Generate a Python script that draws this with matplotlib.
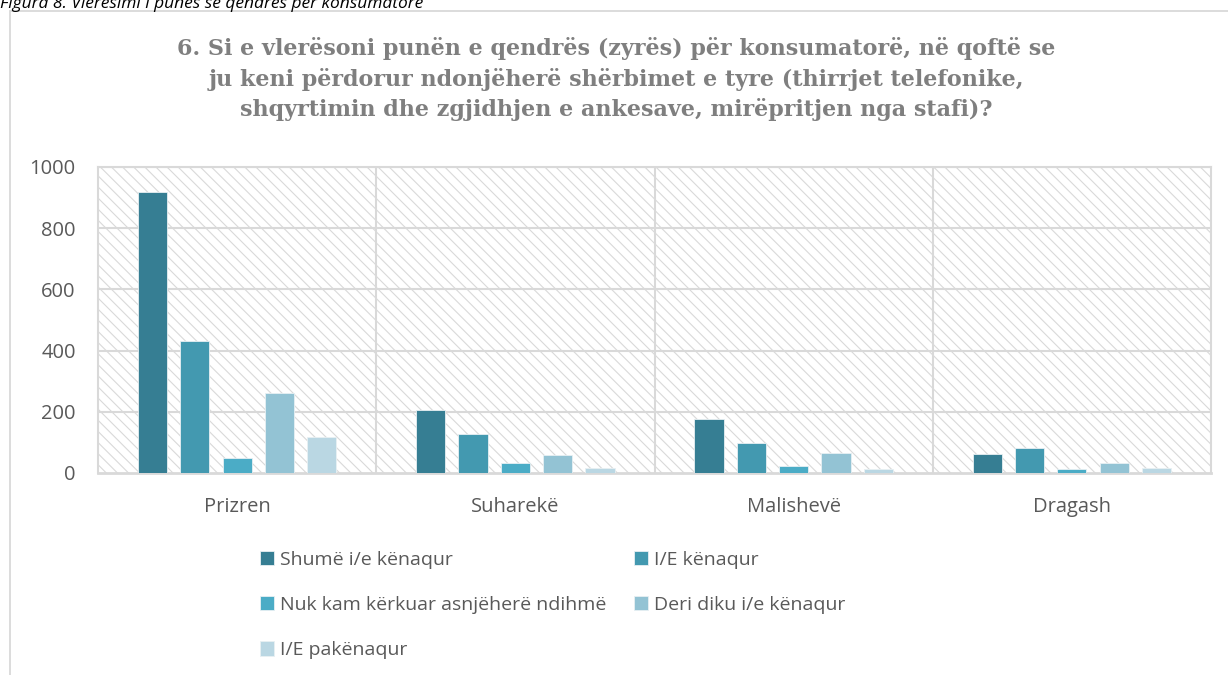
import matplotlib
matplotlib.use("Agg")
import matplotlib.pyplot as plt
import numpy as np
from matplotlib.patches import Rectangle

# data
regions = ["Prizren", "Suharekë", "Malishevë", "Dragash"]
series = ["Shumë i/e kënaqur", "I/E kënaqur", "Nuk kam kërkuar asnjëherë ndihmë",
          "Deri diku i/e kënaqur", "I/E pakënaqur"]
shume = [919, 206, 176, 61]
kenaqur = [430, 127, 97, 81]
nuk_kam = [50, 33, 22, 14]
deri_diku = [263, 59, 65, 34]
pakenaqur = [118, 16, 14, 16]
yticks = [0, 200, 400, 600, 800, 1000]

values = [shume, kenaqur, nuk_kam, deri_diku, pakenaqur]
colors = ["#367e93", "#4399b0", "#4bacc6", "#93c3d4", "#bad7e3"]
grey = "#595959"
line = "#d9d9d9"

plt.rcParams['font.family'] = ['Open Sans', 'DejaVu Sans']
plt.rcParams['hatch.linewidth'] = 0.8
plt.rcParams['hatch.color'] = line

fig = plt.figure(figsize=(12.28, 6.75), dpi=100)
ax = fig.add_axes([98/1228, 1 - 473/675, (1211-98)/1228, (473-167)/675])

# hatched plot background
bg = Rectangle((0, 0), 1, 1, transform=ax.transAxes, facecolor="white",
               edgecolor=line, hatch="\\\\\\", linewidth=0, zorder=0)
ax.add_patch(bg)

x = np.arange(len(regions))
width = 0.105
pitch = 0.152
for i, (vals, c, lab) in enumerate(zip(values, colors, series)):
    ax.bar(x + (i - 2) * pitch, vals, width, color=c, label=lab, zorder=3,
           edgecolor="#e8f0f3", linewidth=0.6)

ax.set_xlim(-0.5, len(regions) - 0.5)
ax.set_ylim(0, 1000)
ax.set_yticks(yticks)
ax.set_xticks(x)
ax.set_xticklabels(regions)
ax.tick_params(length=0, colors=grey, labelsize=14.5)
ax.tick_params(axis="x", pad=17)
ax.tick_params(axis="y", pad=16)

for yv in yticks[1:]:
    ax.axhline(yv, color=line, lw=1.5, zorder=1)
for xv in x[:-1] + 0.5:
    ax.axvline(xv, color=line, lw=1.5, zorder=1)
for s in ax.spines.values():
    s.set_color(line)
    s.set_linewidth(1.5)
ax.spines["bottom"].set_linewidth(2)

# legend, row-wise order
h, l = ax.get_legend_handles_labels()
order = [0, 2, 4, 1, 3]
fig.legend([h[k] for k in order], [l[k] for k in order], ncol=2,
           loc="upper left", bbox_to_anchor=(250/1228, 1 - 541/675),
           frameon=False, fontsize=14, labelcolor=grey,
           handlelength=0.75, handleheight=0.75, handletextpad=0.3,
           columnspacing=1.4, labelspacing=1.4, borderpad=0)

# title
fig.text(0.502, 1 - 37/675,
         "6. Si e vlerësoni punën e qendrës (zyrës) për konsumatorë, në qoftë se\n"
         "ju keni përdorur ndonjëherë shërbimet e tyre (thirrjet telefonike,\n"
         "shqyrtimin dhe zgjidhjen e ankesave, mirëpritjen nga stafi)?",
         ha="center", va="top", fontsize=16, fontweight="bold",
         family=["DejaVu Serif"], color="#7f7f7f", linespacing=1.42)

# figure caption, cut off at the top edge as in the source
fig.text(0.0, 1 - 8/675, "Figura 8. Vlerësimi i punës së qendrës për konsumatorë",
         ha="left", va="baseline", fontsize=12.5, style="italic", color="black")

# outer chart frame
fig.patches.append(Rectangle((9.5/1228, -0.1), 1.2, 1 - 11/675 + 0.1,
                             transform=fig.transFigure, fill=False,
                             edgecolor=line, linewidth=1.3))

fig.savefig("out.png", dpi=100)
